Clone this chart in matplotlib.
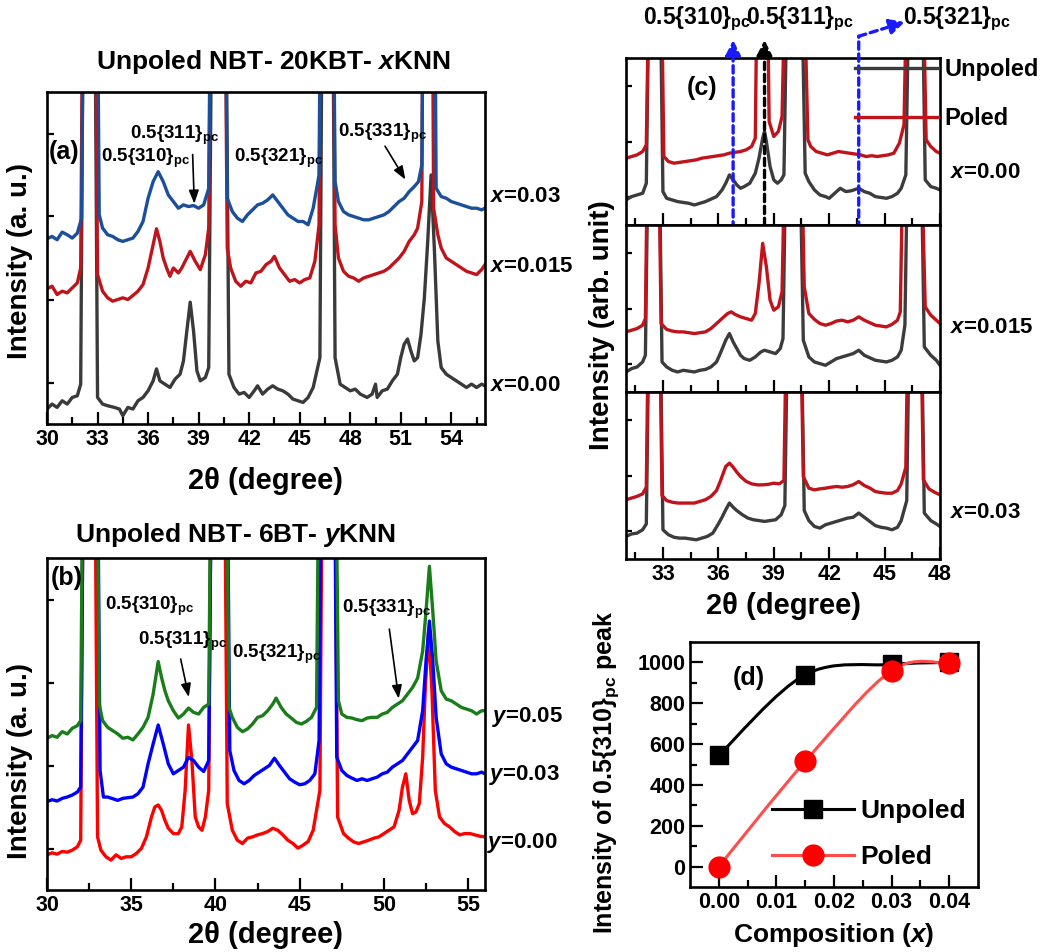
import numpy as np
import matplotlib
matplotlib.use('Agg')
import matplotlib.pyplot as plt
from matplotlib.path import Path
from matplotlib.patches import PathPatch
from matplotlib.lines import Line2D

plt.rcParams['font.family'] = ['Liberation Sans', 'DejaVu Sans']
plt.rcParams['font.weight'] = 'bold'
plt.rcParams['axes.labelweight'] = 'bold'
plt.rcParams['mathtext.fontset'] = 'custom'
plt.rcParams['mathtext.rm'] = 'Liberation Sans:bold'
plt.rcParams['mathtext.bf'] = 'Liberation Sans:bold'
plt.rcParams['mathtext.it'] = 'Liberation Sans:bold:italic'

# ---------------- data ----------------
# panel (a): NBT-20KBT-xKNN, unpoled; intensity in arbitrary units (0-100 = frame)
a_tt_000 = [30.0, 30.3, 30.6, 30.9, 31.2, 31.5, 31.8, 32.0, 32.5, 33.0, 33.3, 33.6, 34.0, 34.3, 34.5, 34.8,
            35.1, 35.4, 35.7, 36.0, 36.3, 36.5, 36.7, 37.0, 37.3, 37.6, 37.9, 38.1, 38.3, 38.5, 38.7, 38.9,
            39.1, 39.4, 39.6, 40.2, 40.8, 41.1, 41.4, 41.7, 42.0, 42.3, 42.5, 42.8, 43.1, 43.4, 43.7, 44.0,
            44.3, 44.6, 44.9, 45.2, 45.5, 45.8, 46.2, 46.65, 47.1, 47.4, 47.7, 48.0, 48.3, 48.6, 49.0, 49.3,
            49.5, 49.6, 49.9, 50.2, 50.5, 50.8, 51.0, 51.2, 51.4, 51.6, 51.8, 52.0, 52.2, 52.4, 52.6, 52.8,
            53.0, 53.2, 53.4, 53.7, 54.0, 54.3, 54.6, 54.9, 55.2, 55.5, 55.8, 56.0]
a_I_000 = [4.5, 6, 5, 7, 6, 8, 8.5, 12, 400, 8, 6, 5.5, 5, 4.5, 2.5, 5,
           4.5, 7, 8, 10, 13, 16.6, 13, 12, 11, 13.5, 15, 19, 28, 36.7, 28, 16,
           13, 14, 17, 400, 15, 11, 9, 9.5, 8, 10, 11.5, 9, 10.5, 11.5, 10.5, 10,
           9, 7.5, 7, 6.5, 8, 11, 20, 400, 20, 12, 11, 10, 10.5, 9, 8, 9,
           12, 8, 10, 10.5, 13, 15, 20, 24, 25.6, 22, 19, 20, 27, 38, 55, 75,
           52, 25, 17, 15, 14, 13, 12, 11, 12, 11, 12, 11.5]

a_tt_015 = [30.0, 30.3, 30.6, 30.9, 31.2, 31.5, 31.8, 32.0, 32.5, 33.0, 33.3, 33.6, 33.9, 34.2, 34.5, 34.8,
            35.1, 35.4, 35.7, 36.0, 36.3, 36.5, 36.7, 36.9, 37.1, 37.3, 37.5, 37.8, 38.0, 38.2, 38.5, 38.8,
            39.1, 39.4, 39.6, 40.15, 40.7, 40.9, 41.2, 41.5, 41.8, 42.1, 42.4, 42.7, 43.0, 43.3, 43.5, 43.8,
            44.1, 44.4, 44.7, 45.0, 45.3, 45.6, 45.9, 46.15, 46.6, 47.1, 47.3, 47.6, 47.9, 48.2, 48.5, 48.8,
            49.1, 49.4, 49.7, 50.0, 50.3, 50.6, 50.9, 51.2, 51.5, 51.8, 52.0, 52.25, 52.6, 52.95, 53.2, 53.4,
            53.7, 54.0, 54.3, 54.6, 54.9, 55.2, 55.5, 55.8, 56.0]
a_I_015 = [40.7, 41.5, 39, 40, 39.5, 41, 42.5, 47, 400, 45, 40, 38, 37, 37.5, 38, 37.5,
           38.7, 40, 42, 47, 54, 58.8, 55, 50, 47, 44.5, 47, 45.5, 47, 49, 52, 49,
           46.5, 51, 59, 400, 53, 47, 43, 41.5, 43, 42.5, 45.5, 46, 48, 49, 50.5, 47,
           45, 43, 43.5, 42.5, 43.5, 44, 49, 60, 400, 60, 50, 46, 44.5, 44, 43, 44,
           44.5, 45, 45.5, 46, 47, 48.5, 50, 52, 55, 57, 59, 67, 400, 65, 57, 53,
           50, 49, 48, 47, 46, 45.5, 45, 46.5, 48]

a_tt_030 = [30.0, 30.3, 30.6, 30.9, 31.2, 31.5, 31.8, 32.05, 32.6, 33.1, 33.3, 33.6, 33.9, 34.2, 34.5, 34.8,
            35.1, 35.4, 35.7, 36.0, 36.3, 36.6, 36.9, 37.2, 37.5, 37.8, 38.1, 38.4, 38.7, 39.0, 39.3, 39.6,
            40.15, 40.7, 41.0, 41.3, 41.6, 41.9, 42.2, 42.5, 42.8, 43.1, 43.4, 43.7, 44.0, 44.3, 44.6, 44.9,
            45.2, 45.5, 45.8, 46.15, 46.6, 47.1, 47.3, 47.6, 47.9, 48.2, 48.5, 48.8, 49.1, 49.4, 49.7, 50.0,
            50.3, 50.6, 50.9, 51.2, 51.5, 51.8, 52.05, 52.25, 52.7, 53.1, 53.4, 53.7, 54.0, 54.3, 54.6, 54.9,
            55.2, 55.5, 55.8, 56.0]
a_I_030 = [55.8, 56.5, 55.5, 57.8, 57, 56, 57.5, 62, 400, 63, 59, 57, 56.5, 55.5, 55, 55.5,
           56, 58, 61, 68, 73, 76, 73, 69, 67, 65, 66, 65.5, 65.8, 65, 66, 71,
           400, 68, 64, 62, 61, 63, 64.5, 66, 66.5, 67.5, 69, 67, 65, 63, 62, 61,
           61, 60, 65, 75, 400, 73, 67, 64, 63, 62.5, 62, 61.5, 61.5, 62, 62.5, 63,
           64, 65.5, 67, 68, 70, 71.5, 73, 78, 400, 71, 68.5, 68, 67, 66.5, 66, 65.5,
           65, 65, 64.5, 65]

# panel (b): NBT-6BT-yKNN, unpoled
b_tt_005 = [30.0, 30.3, 30.6, 30.9, 31.2, 31.5, 31.8, 32.0, 32.55, 33.1, 33.3, 33.6, 33.9, 34.2, 34.5, 34.8,
            35.1, 35.4, 35.7, 36.0, 36.3, 36.6, 36.8, 37.0, 37.2, 37.5, 37.8, 38.1, 38.4, 38.7, 39.0, 39.3,
            39.6, 40.2, 40.8, 41.0, 41.3, 41.6, 41.9, 42.2, 42.5, 42.8, 43.1, 43.4, 43.6, 43.9, 44.2, 44.5,
            44.8, 45.1, 45.4, 45.7, 46.0, 46.6, 47.3, 47.5, 47.8, 48.1, 48.4, 48.7, 49.0, 49.3, 49.6, 49.9,
            50.2, 50.5, 50.8, 51.1, 51.4, 51.7, 52.0, 52.3, 52.5, 52.7, 52.9, 53.1, 53.4, 53.7, 54.0, 54.3,
            54.6, 54.9, 55.2, 55.5, 55.8, 56.0]
b_I_005 = [45.7, 46.5, 46, 47.7, 47, 48.7, 49.5, 51, 400, 56, 51, 49, 48, 47, 45.7, 46,
           45.2, 47, 49, 52, 59, 68.8, 64, 60, 57, 54, 51.8, 53, 54.8, 53.5, 53, 55,
           56, 400, 55, 52, 49, 47.7, 48.5, 50, 52, 52.5, 54, 56, 57.8, 55, 53, 51.8,
           50.5, 50, 50.8, 52, 55, 400, 57, 53, 52, 51.8, 51.3, 51, 51.8, 52, 52, 53,
           53.5, 55, 56, 57, 59, 61, 63.8, 72, 84, 97.5, 84, 69, 60, 57.5, 57, 56,
           55, 54.5, 54, 53, 54, 54]

b_tt_003 = [30.0, 30.3, 30.6, 30.9, 31.2, 31.5, 31.8, 32.0, 32.6, 33.15, 33.35, 33.6, 33.9, 34.2, 34.5, 34.8,
            35.1, 35.4, 35.7, 36.0, 36.3, 36.6, 36.9, 37.2, 37.5, 37.8, 38.1, 38.4, 38.7, 39.0, 39.3, 39.6,
            40.25, 40.85, 41.1, 41.4, 41.7, 42.0, 42.3, 42.6, 42.9, 43.2, 43.5, 43.8, 44.1, 44.4, 44.7, 45.0,
            45.3, 45.6, 45.9, 46.15, 46.7, 47.2, 47.5, 47.8, 48.1, 48.4, 48.7, 49.0, 49.3, 49.6, 49.9, 50.2,
            50.5, 50.8, 51.1, 51.4, 51.7, 52.0, 52.3, 52.5, 52.7, 52.9, 53.1, 53.4, 53.7, 54.0, 54.3, 54.6,
            54.9, 55.2, 55.5, 55.8, 56.0]
b_I_003 = [26.6, 27.2, 26.8, 27.6, 28, 28.6, 29.5, 31, 400, 36, 28, 28, 27.5, 27, 27.6, 27.8,
           28, 29, 31, 38, 44, 49.7, 44, 38, 35, 36, 37, 40, 39, 37, 35.7, 39,
           400, 42, 36, 33, 32, 33, 34.5, 35.5, 36.5, 37.5, 39.7, 37.5, 35.5, 33.5, 32.5, 31.7,
           32, 33, 35, 45, 400, 40, 36, 34.5, 33.7, 33, 33.5, 33, 33.5, 34, 35, 35.5,
           37, 38, 39, 41, 43, 45, 54, 69, 81, 69, 52, 41, 38, 37, 36.5, 36,
           35.5, 35, 35, 35.5, 35]

b_tt_000 = [30.0, 30.3, 30.6, 30.9, 31.2, 31.5, 31.8, 32.0, 32.5, 33.0, 33.2, 33.5, 33.8, 34.1, 34.4, 34.7,
            35.0, 35.3, 35.6, 35.9, 36.2, 36.4, 36.6, 36.8, 37.0, 37.2, 37.5, 37.8, 38.0, 38.2, 38.4, 38.6,
            38.8, 39.0, 39.2, 39.4, 39.6, 40.15, 40.7, 41.0, 41.3, 41.6, 41.9, 42.2, 42.5, 42.8, 43.1, 43.4,
            43.7, 44.0, 44.3, 44.6, 44.9, 45.2, 45.5, 45.8, 46.2, 46.7, 47.25, 47.6, 47.9, 48.2, 48.5, 48.8,
            49.1, 49.4, 49.7, 50.0, 50.3, 50.6, 50.9, 51.1, 51.3, 51.5, 51.7, 51.9, 52.1, 52.3, 52.45, 52.65,
            52.85, 53.05, 53.3, 53.6, 53.9, 54.2, 54.5, 54.8, 55.1, 55.4, 55.7, 56.0]
b_I_000 = [10.6, 11.2, 10.8, 11.6, 11.4, 12, 13, 15, 400, 16, 12, 10, 9, 10.6, 9.5, 10,
           10, 11, 12.5, 16, 22, 25, 25.6, 24, 21, 18.6, 17, 17, 19, 30, 49.7, 39,
           22, 19, 18, 22, 30, 400, 26, 18, 15, 14, 15.6, 16, 16.6, 17, 17.6, 18.6,
           18, 16.6, 15, 14, 12.6, 13.5, 14.6, 18, 30, 400, 22, 17, 15.6, 14.5, 14, 14.5,
           15, 15.6, 16, 17, 18, 19, 24, 31, 35, 27, 23, 23.5, 26, 40, 60, 78,
           60, 30, 22, 20, 19, 17.6, 16.6, 17, 17, 16.6, 16.2, 16]

# panel (c): unpoled vs poled, three compositions
c0_tt_un = [31.0, 31.3, 31.6, 31.9, 32.1, 32.55, 33.0, 33.2, 33.5, 33.8, 34.1, 34.4, 34.7, 35.0, 35.3, 35.6,
            35.9, 36.2, 36.4, 36.6, 36.8, 37.0, 37.2, 37.4, 37.7, 38.0, 38.2, 38.4, 38.5, 38.6, 38.8, 39.0,
            39.2, 39.4, 39.55, 40.1, 40.7, 40.9, 41.2, 41.5, 41.8, 42.0, 42.3, 42.6, 42.9, 43.2, 43.6, 43.9,
            44.2, 44.5, 44.8, 45.1, 45.4, 45.7, 45.9, 46.15, 46.7, 47.2, 47.5, 47.8, 48.0]
c0_I_un = [15, 17, 18, 19, 25, 400, 20, 16, 15, 14, 13.5, 13, 12, 13, 14, 15.5,
           17, 21, 25, 30, 27, 24, 22, 23, 25, 31, 40, 52, 56, 50, 35, 27,
           25, 27, 30, 400, 31, 26, 21, 18, 17, 16, 19, 22, 20, 20.5, 22, 20,
           19, 17, 16.5, 16, 17, 19, 22, 30, 400, 27, 23, 22, 21]
c0_tt_po = [31.0, 31.3, 31.6, 31.9, 32.1, 32.6, 33.05, 33.3, 33.6, 33.9, 34.2, 34.5, 34.8, 35.1, 35.4, 35.7,
            36.0, 36.3, 36.6, 36.9, 37.2, 37.5, 37.8, 38.0, 38.35, 38.75, 39.0, 39.25, 39.45, 40.1, 40.85, 41.0,
            41.3, 41.6, 41.9, 42.2, 42.5, 42.8, 43.1, 43.4, 43.7, 44.0, 44.3, 44.6, 44.9, 45.2, 45.5, 45.8,
            46.05, 46.65, 47.25, 47.5, 47.8, 48.0]
c0_I_po = [40, 41, 42, 44, 48, 400, 41, 38, 37, 37.5, 38, 38.5, 39, 40, 40.5, 41,
           41.5, 42, 43, 43.5, 44, 45, 47, 52, 400, 62, 53, 56, 65, 400, 51, 47,
           44, 43, 42, 43, 44, 43.5, 43, 42.5, 42, 41, 41.5, 41, 41.5, 42, 43, 49,
           60, 400, 51, 47, 44, 43]

c1_tt_un = [31.0, 31.3, 31.6, 31.9, 32.05, 32.5, 32.95, 33.2, 33.5, 33.8, 34.1, 34.4, 34.7, 35.0, 35.3, 35.6,
            35.9, 36.1, 36.4, 36.6, 36.8, 37.0, 37.2, 37.4, 37.7, 38.0, 38.3, 38.5, 38.8, 39.1, 39.35, 39.5,
            40.0, 40.6, 40.9, 41.2, 41.5, 41.8, 42.1, 42.4, 42.7, 43.0, 43.3, 43.6, 43.9, 44.2, 44.5, 44.8,
            45.1, 45.4, 45.7, 45.9, 46.1, 46.6, 47.15, 47.5, 47.8, 48.0]
c1_I_un = [12, 14, 15, 18, 22, 400, 18, 15, 13, 12, 13, 12.5, 12, 13, 13.5, 15,
           18, 23, 31, 35, 30, 26, 22, 20, 19, 21, 24, 25, 24, 23, 26, 32,
           400, 31, 21, 18, 17, 16, 18, 20, 21, 22, 23, 25, 22, 20.5, 19, 18.5,
           18, 19, 21, 25, 40, 400, 27, 22, 19, 16]
c1_tt_po = [31.0, 31.3, 31.6, 31.9, 32.05, 32.45, 32.9, 33.2, 33.5, 33.8, 34.1, 34.4, 34.7, 35.0, 35.3, 35.6,
            35.9, 36.2, 36.5, 36.7, 36.9, 37.2, 37.5, 37.8, 38.0, 38.2, 38.4, 38.6, 38.8, 39.0, 39.25, 39.45,
            40.05, 40.65, 40.9, 41.2, 41.5, 41.8, 42.1, 42.4, 42.7, 43.0, 43.3, 43.6, 43.9, 44.2, 44.5, 44.8,
            45.1, 45.4, 45.7, 45.85, 46.4, 47.2, 47.5, 47.8, 48.0]
c1_I_po = [36, 37, 38, 40, 44, 400, 41, 37.5, 36.5, 36, 36, 35.5, 35, 35.5, 36, 38,
           41, 44, 47, 48, 46.5, 45, 44, 43, 47, 65, 89, 75, 55, 49, 51, 60,
           400, 63, 47, 43.5, 41, 40, 41, 42.5, 43, 42, 43, 45, 43, 41.5, 40, 39.5,
           39, 40.5, 43, 48, 400, 51, 46, 43, 41]

c2_tt_un = [31.0, 31.3, 31.6, 31.9, 32.1, 32.55, 33.0, 33.3, 33.6, 33.9, 34.2, 34.5, 34.8, 35.1, 35.4, 35.7,
            36.0, 36.2, 36.4, 36.6, 36.8, 37.0, 37.3, 37.6, 37.9, 38.2, 38.5, 38.8, 39.1, 39.4, 39.6, 40.1,
            40.65, 40.9, 41.2, 41.5, 41.8, 42.1, 42.4, 42.7, 43.0, 43.3, 43.6, 43.9, 44.2, 44.5, 44.8, 45.1,
            45.4, 45.7, 45.9, 46.2, 46.65, 47.15, 47.5, 47.8, 48.0]
c2_I_un = [13.5, 15, 15.5, 17.5, 21, 400, 17.5, 14.5, 13, 12.5, 12.5, 12, 11.5, 12.5, 13.5, 15.5,
           21, 25, 29.5, 33.5, 31, 29, 26.5, 24.5, 23.5, 23, 22.5, 23, 23.5, 26.5, 32, 400,
           29, 23, 19.5, 18.5, 20.5, 21.5, 22.5, 23.5, 24.5, 25, 27.5, 25, 22.5, 20, 19, 18.5,
           17.5, 19, 23, 35, 400, 27.5, 23, 21, 19.5]
c2_tt_po = [31.0, 31.3, 31.6, 31.9, 32.1, 32.5, 32.95, 33.2, 33.5, 33.8, 34.1, 34.4, 34.7, 35.0, 35.3, 35.6,
            35.9, 36.1, 36.4, 36.6, 36.8, 37.0, 37.2, 37.5, 37.8, 38.1, 38.4, 38.7, 39.0, 39.3, 39.55, 40.05,
            40.6, 40.9, 41.2, 41.5, 41.8, 42.1, 42.4, 42.7, 43.0, 43.3, 43.6, 43.9, 44.2, 44.5, 44.8, 45.1,
            45.4, 45.7, 45.9, 46.15, 46.6, 47.1, 47.4, 47.7, 48.0]
c2_I_po = [35.5, 36.5, 37.5, 39, 43, 400, 38, 35, 34, 33.5, 33.5, 33.5, 33.5, 34.5, 35.5, 37.5,
           41, 46.4, 55.4, 57.4, 55, 52, 49.4, 46.5, 45, 44.4, 44.4, 44.7, 45.4, 45, 47, 400,
           49.4, 42.4, 41.4, 42, 42.4, 43, 43.4, 43, 43.4, 44.5, 46.4, 44, 42.5, 40.4, 39.8, 39.4,
           39.4, 41, 45, 55, 400, 47.4, 42, 40, 38.4]

# marked reflections in (c)
c_marks = [36.8, 38.5, 43.6]

# panel (d): intensity of the 0.5{310} peak
comp = [0.0, 0.015, 0.03, 0.04]
d_unpoled = [545, 940, 990, 1000]
d_poled = [0, 515, 960, 995]

# ---------------- styling ----------------
W, H = 1042, 952
fig = plt.figure(figsize=(W / 100, H / 100), dpi=100)


def box(l, t, r, b):
    return [l / W, 1 - b / H, (r - l) / W, (b - t) / H]


def style(ax, lsize=15.5):
    for s in ax.spines.values():
        s.set_linewidth(1.9)
    ax.tick_params(which='both', direction='in', width=1.6, labelsize=lsize, top=False, right=False)
    ax.tick_params(which='major', length=9)
    ax.tick_params(which='minor', length=5)


sub = r'$_{\mathrm{pc}}$'
lw = 2.4

# ---- (a)
ax_a = fig.add_axes(box(47, 92, 485, 424))
ax_a.plot(a_tt_000, a_I_000, color='#3a3a3a', lw=lw)
ax_a.plot(a_tt_015, a_I_015, color='#c0141c', lw=lw)
ax_a.plot(a_tt_030, a_I_030, color='#1c4f9a', lw=lw)
ax_a.set_xlim(30, 56)
ax_a.set_ylim(0, 100)
ax_a.set_xticks(np.arange(30, 55, 3))
ax_a.set_xticks(np.arange(31.5, 56, 3), minor=True)
ax_a.set_yticks([12.5, 37.5, 62.5, 87.5])
ax_a.set_yticklabels([])
style(ax_a)
ax_a.tick_params(axis='y', which='major', length=5)
ax_a.set_xlabel('2θ (degree)', fontsize=21, labelpad=12)
ax_a.set_ylabel('Intensity (a. u.)', fontsize=20)
ax_a.yaxis.set_label_coords(-0.032, 0.49)
fig.text(273 / W, 1 - 62 / H, 'Unpoled NBT- 20KBT- $x$KNN', fontsize=19, ha='center', va='center')
ax_a.text(30.1, 82, '(a)', fontsize=18, va='center')
ax_a.text(33.2, 80, '0.5{310}' + sub, fontsize=13.5, va='center')
ax_a.text(34.9, 87, '0.5{311}' + sub, fontsize=13.5, va='center')
ax_a.text(41.1, 80, '0.5{321}' + sub, fontsize=13.5, va='center')
ax_a.text(47.3, 87.5, '0.5{331}' + sub, fontsize=13.5, va='center')
arr = dict(arrowstyle='-|>,head_length=0.8,head_width=0.3', color='black', lw=1.2)
ax_a.annotate('', xy=(38.75, 65.5), xytext=(38.64, 82), arrowprops=arr)
ax_a.annotate('', xy=(51.36, 72.9), xytext=(49.98, 84.4), arrowprops=arr)
for yy, lab in [(0.684, '$x$=0.03'), (0.473, '$x$=0.015'), (0.117, '$x$=0.00')]:
    ax_a.text(1.012, yy, lab, transform=ax_a.transAxes, fontsize=16, va='center')

# ---- (b)
ax_b = fig.add_axes(box(47, 558, 485, 890))
ax_b.plot(b_tt_000, b_I_000, color='#ff0000', lw=lw)
ax_b.plot(b_tt_003, b_I_003, color='#0000ff', lw=lw)
ax_b.plot(b_tt_005, b_I_005, color='#1a7d1a', lw=lw)
ax_b.set_xlim(30, 56)
ax_b.set_ylim(0, 100)
ax_b.set_xticks(np.arange(30, 56, 5))
ax_b.set_xticks(np.arange(32.5, 56, 5), minor=True)
ax_b.set_yticks([12.5, 37.5, 62.5, 87.5])
ax_b.set_yticklabels([])
style(ax_b)
ax_b.tick_params(axis='y', which='major', length=5)
ax_b.set_xlabel('2θ (degree)', fontsize=21, labelpad=4)
ax_b.set_ylabel('Intensity (a. u.)', fontsize=20)
ax_b.yaxis.set_label_coords(-0.032, 0.39)
fig.text(236 / W, 1 - 535 / H, 'Unpoled NBT- 6BT- $y$KNN', fontsize=19, ha='center', va='center')
ax_b.text(30.2, 94, '(b)', fontsize=18, va='center')
ax_b.text(33.45, 85.4, '0.5{310}' + sub, fontsize=13.5, va='center')
ax_b.text(35.4, 75, '0.5{311}' + sub, fontsize=13.5, va='center')
ax_b.text(41.0, 71, '0.5{321}' + sub, fontsize=13.5, va='center')
ax_b.text(47.5, 84.4, '0.5{331}' + sub, fontsize=13.5, va='center')
ax_b.annotate('', xy=(38.45, 57.3), xytext=(37.9, 70.4), arrowprops=arr)
ax_b.annotate('', xy=(50.9, 56.8), xytext=(50.3, 79.4), arrowprops=arr)
for yy, xx, lab in [(0.521, 1.015, '$y$=0.05'), (0.346, 1.01, '$y$=0.03'), (0.142, 1.005, '$y$=0.00')]:
    ax_b.text(xx, yy, lab, transform=ax_b.transAxes, fontsize=16, va='center')

# ---- (c)
c_rows = [(58, 225), (225, 392), (392, 559)]
c_data = [(c0_tt_un, c0_I_un, c0_tt_po, c0_I_po),
          (c1_tt_un, c1_I_un, c1_tt_po, c1_I_po),
          (c2_tt_un, c2_I_un, c2_tt_po, c2_I_po)]
c_labels = ['$x$=0.00', '$x$=0.015', '$x$=0.03']
c_lab_y = [0.317, 0.389, 0.281]
c_axes = []
for (t, b), (tu, iu, tp, ip), lab, ly in zip(c_rows, c_data, c_labels, c_lab_y):
    ax = fig.add_axes(box(626, t, 940, b))
    ax.plot(tu, iu, color='#3c3c3c', lw=lw, label='Unpoled')
    ax.plot(tp, ip, color='#c0141c', lw=lw, label='Poled')
    ax.set_xlim(31, 48)
    ax.set_ylim(0, 100)
    ax.set_xticks(np.arange(33, 49, 3))
    ax.set_xticks(np.arange(31.5, 48, 3), minor=True)
    ax.set_yticks([17, 50, 83])
    ax.set_yticklabels([])
    style(ax)
    ax.tick_params(axis='y', which='major', length=4)
    ax.text(1.032, ly, lab, transform=ax.transAxes, fontsize=16, va='center')
    c_axes.append(ax)
for ax in c_axes[:2]:
    ax.set_xticklabels([])
ax_c0, ax_c2 = c_axes[0], c_axes[2]
ax_c2.set_xlabel('2θ (degree)', fontsize=21, labelpad=5)
ax_c0.text(34.3, 0.82, '(c)', transform=ax_c0.get_xaxis_transform(), fontsize=18, va='center')
fig.text(602 / W, 1 - 325 / H, 'Intensity (arb. unit)', fontsize=20, rotation=90, ha='center', va='center')
ax_c0.legend(loc='upper left', bbox_to_anchor=(0.729, 1.0), frameon=False, fontsize=17,
             handlelength=3.5, handletextpad=0.3, labelspacing=1.1, borderpad=0, borderaxespad=0)

# dashed guide lines through all three stacked panels
mark_cols = ['#1a1aff', 'black', '#1a1aff']
mark_low = [0.323, 0.2, 0.25]
mark_top = [1.108, 1.108, 1.13]
for xm, col, lo, hi in zip(c_marks, mark_cols, mark_low, mark_top):
    style_arrow = '-|>,head_length=0.9,head_width=0.45' if hi < 1.12 else '-'
    ax_c0.annotate('', xy=(xm, hi), xycoords=ax_c0.get_xaxis_transform(),
                   xytext=(xm, lo), textcoords=ax_c2.get_xaxis_transform(),
                   arrowprops=dict(arrowstyle=style_arrow, color=col, lw=2.4, ls=(0, (2.2, 1.4)),
                                   shrinkA=0, shrinkB=0), annotation_clip=False)
ax_c0.annotate('', xy=(46.1, 1.216), xycoords=ax_c0.get_xaxis_transform(),
               xytext=(c_marks[2], 1.13), textcoords=ax_c0.get_xaxis_transform(),
               arrowprops=dict(arrowstyle='-|>,head_length=0.9,head_width=0.45', color='#1a1aff', lw=2.4,
                               ls=(0, (2.2, 1.4)), shrinkA=0, shrinkB=0), annotation_clip=False)
for xt, txt in [(31.92, '0.5{310}' + sub), (37.52, '0.5{311}' + sub), (46.0, '0.5{321}' + sub)]:
    ax_c0.text(xt, 1.235, txt, transform=ax_c0.get_xaxis_transform(), fontsize=16.5, va='center')

# ---- (d)
ax_d = fig.add_axes(box(690, 642, 978, 887))


def smooth_path(xs, ys):
    pts = np.column_stack([xs, ys]).astype(float)
    n = len(pts)
    verts = [pts[0]]
    codes = [Path.MOVETO]
    for i in range(n - 1):
        p0, p1, p2, p3 = pts[max(i - 1, 0)], pts[i], pts[i + 1], pts[min(i + 2, n - 1)]
        verts += [p1 + (p2 - p0) / 6, p2 - (p3 - p1) / 6, p2]
        codes += [Path.CURVE4] * 3
    return Path(verts, codes)


ax_d.add_patch(PathPatch(smooth_path(comp, d_unpoled), fc='none', ec='black', lw=2.2))
ax_d.add_patch(PathPatch(smooth_path(comp, d_poled), fc='none', ec='#ff4d4d', lw=2.2))
ax_d.plot(comp, d_unpoled, 's', color='black', ms=13)
ax_d.plot(comp, d_poled, 'o', color='#ff0000', ms=15)
ax_d.set_xlim(-0.005, 0.045)
ax_d.set_ylim(-100, 1100)
ax_d.set_xticks([0, 0.01, 0.02, 0.03, 0.04])
ax_d.set_xticklabels(['0.00', '0.01', '0.02', '0.03', '0.04'])
ax_d.set_xticks([0.005, 0.015, 0.025, 0.035], minor=True)
ax_d.set_yticks(np.arange(0, 1001, 200))
ax_d.set_yticks(np.arange(100, 1001, 200), minor=True)
style(ax_d, 15.5)
ax_d.set_xlabel('Composition ($x$)', fontsize=19, labelpad=6)
ax_d.set_ylabel('Intensity of 0.5{310}' + sub + ' peak', fontsize=18)
ax_d.yaxis.set_label_coords(-0.24, 0.47)
ax_d.text(0.0024, 925, '(d)', fontsize=18, va='center')
handles = [Line2D([], [], color='black', marker='s', ms=13, lw=2.2),
           Line2D([], [], color='#ff4d4d', marker='o', mfc='#ff0000', mec='#ff0000', ms=15, lw=2.2)]
ax_d.legend(handles, ['Unpoled', 'Poled'], loc='upper left', bbox_to_anchor=(0.285, 0.36), frameon=False,
            fontsize=19, handlelength=3.1, handletextpad=0.25, labelspacing=0.85, borderpad=0,
            borderaxespad=0)

fig.savefig('out.png', dpi=100)
